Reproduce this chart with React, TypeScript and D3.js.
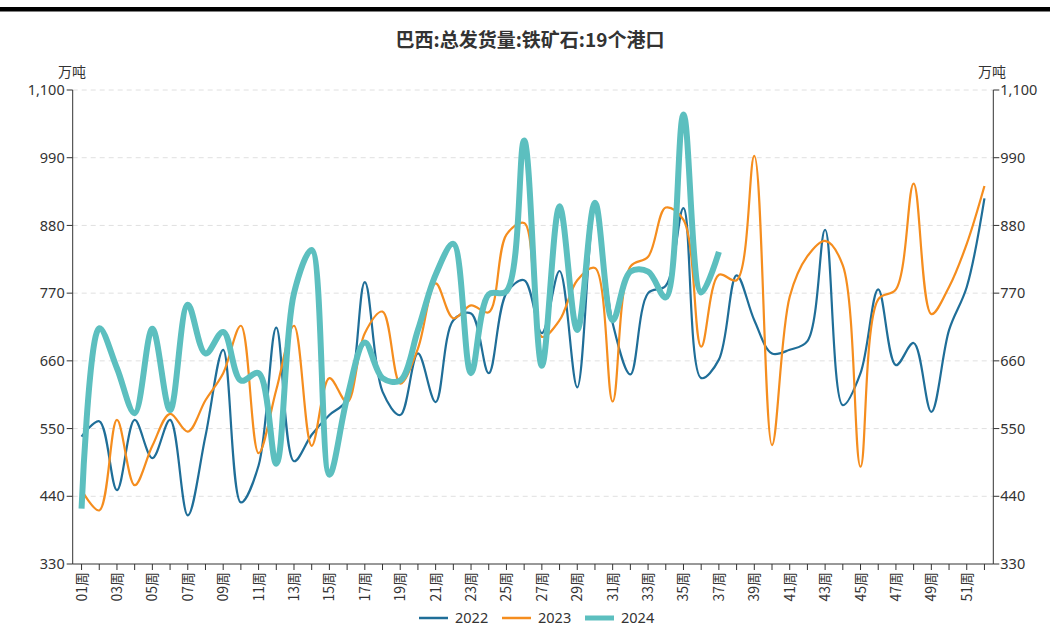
import React from "react";
import * as d3 from "d3";

const weeks: string[] = Array.from({ length: 52 }, (_, i) => `${String(i + 1).padStart(2, "0")}周`);

const s2022: number[] = [
  537, 562, 450, 564, 502, 564, 409, 538, 678, 430,
  490, 714, 497, 540, 572, 597, 788, 610, 572, 672,
  593, 726, 737, 640, 770, 791, 705, 806, 617, 907,
  721, 638, 770, 782, 908, 632, 662, 799, 726, 672,
  678, 692, 873, 588, 640, 776, 653, 689, 577, 710,
  780, 924,
];

const s2023: number[] = [
  450, 417, 564, 458, 522, 574, 545, 596, 640, 717,
  510, 613, 717, 522, 632, 593, 705, 740, 623, 680,
  786, 729, 750, 739, 865, 884, 699, 726, 791, 811,
  594, 813, 829, 909, 889, 683, 800, 791, 993, 523,
  764, 830, 855, 815, 488, 760, 776, 948, 736, 780,
  850, 944,
];

const s2024: number[] = [
  420, 713, 648, 575, 712, 580, 751, 672, 707, 628,
  640, 493, 770, 840, 475, 600, 690, 632, 628, 710,
  800, 850, 640, 768, 773, 1018, 652, 911, 710, 917,
  726, 805, 805, 763, 1060, 771, 837,
];

const yTicks: number[] = [330, 440, 550, 660, 770, 880, 990, 1100];
const seriesNames: string[] = ["2022", "2023", "2024"];
const seriesColors: string[] = ["#1f6e98", "#f58d1e", "#5cbfbf"];
const seriesWidths: number[] = [2.2, 2.2, 6];

const W = 1055;
const H = 643;
const left = 72.7;
const right = 993.3;
const top = 90;
const bottom = 564;
const font = "'Noto Sans', 'Noto Sans CJK SC', sans-serif";
const cjk = "'Noto Sans CJK SC', sans-serif";

export default function App() {
  const x = d3.scaleBand<string>().domain(weeks).range([left, right]).paddingInner(0).paddingOuter(0);
  const cx = (i: number) => (x(weeks[i]) as number) + x.bandwidth() / 2;
  const y = d3.scaleLinear().domain([330, 1100]).range([bottom, top]);
  const fmt = d3.format(",");
  const line = d3
    .line<number>()
    .x((_, i) => cx(i))
    .y((d) => y(d))
    .curve(d3.curveCatmullRom.alpha(0.5));
  const data = [s2022, s2023, s2024];

  const legendX = [419, 502, 585];

  return (
    <svg width={W} height={H} style={{ position: "absolute", left: 0, top: 0, background: "#fff" }} fontFamily={font}>
      <rect x={0} y={7} width={1050} height={4.5} fill="#000" />
      <text x={530} y={47} textAnchor="middle" fontSize={19} fontWeight="bold" fill="#333" fontFamily={cjk}>
        巴西:总发货量:铁矿石:19个港口
      </text>
      <text x={72} y={77} textAnchor="middle" fontSize={14} fill="#333" fontFamily={cjk}>万吨</text>
      <text x={992} y={77} textAnchor="middle" fontSize={14} fill="#333" fontFamily={cjk}>万吨</text>

      {yTicks.map((t) => (
        <g key={t}>
          {t !== 330 && (
            <line x1={left} x2={right} y1={y(t)} y2={y(t)} stroke="#e0e0e0" strokeDasharray="5,4" strokeWidth={1} />
          )}
          <line x1={left - 6} x2={left} y1={y(t)} y2={y(t)} stroke="#333" />
          <line x1={right} x2={right + 6} y1={y(t)} y2={y(t)} stroke="#333" />
          <text x={left - 8} y={y(t)} dy="0.35em" textAnchor="end" fontSize={14.5} fill="#333">{fmt(t)}</text>
          <text x={right + 7} y={y(t)} dy="0.35em" textAnchor="start" fontSize={14.5} fill="#333">{fmt(t)}</text>
        </g>
      ))}
      <line x1={left} x2={left} y1={top} y2={bottom} stroke="#333" />
      <line x1={right} x2={right} y1={top} y2={bottom} stroke="#333" />
      <line x1={left} x2={right} y1={bottom} y2={bottom} stroke="#333" />

      {weeks.map((w, i) => (
        <g key={w}>
          <line x1={cx(i)} x2={cx(i)} y1={bottom} y2={bottom + 6} stroke="#333" />
          {i % 2 === 0 && (
            <text
              transform={`translate(${cx(i) + 5},${bottom + 8}) rotate(-90)`}
              textAnchor="end"
              fontSize={14}
              fill="#333"
              fontFamily={cjk}
            >
              {w}
            </text>
          )}
        </g>
      ))}

      {data.map((d, k) => (
        <path
          key={seriesNames[k]}
          d={line(d) || ""}
          fill="none"
          stroke={seriesColors[k]}
          strokeWidth={seriesWidths[k]}
          strokeLinejoin="round"
          strokeLinecap="butt"
        />
      ))}

      {seriesNames.map((n, k) => (
        <g key={n}>
          <line
            x1={legendX[k]}
            x2={legendX[k] + 29}
            y1={618}
            y2={618}
            stroke={seriesColors[k]}
            strokeWidth={k === 2 ? 5 : 2.5}
          />
          <text x={legendX[k] + 36} y={618} dy="0.35em" fontSize={14.5} fill="#333">{n}</text>
        </g>
      ))}
    </svg>
  );
}
